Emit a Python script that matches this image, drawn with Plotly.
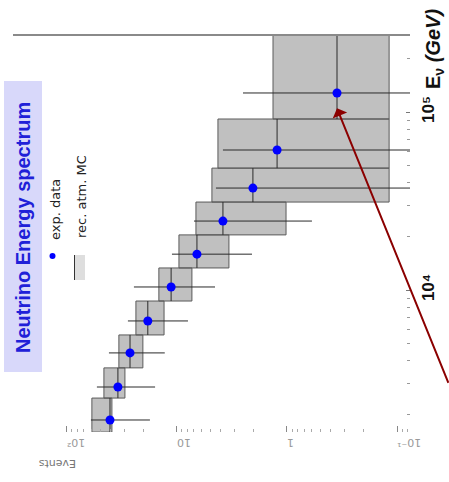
import numpy as np
import plotly.graph_objects as go

# Energy bins (GeV) and measured / simulated event counts per bin
energy_lo = [1590, 2470, 3650, 5590, 8670, 13300, 20400, 31200, 48400, 91400]
energy_hi = [2470, 3650, 5590, 8670, 13300, 20400, 31200, 48400, 91400, 271000]
energy_pt = [1860, 2850, 4430, 6700, 10400, 15900, 24400, 37400, 61200, 128000]

events_data = [40.6, 34.4, 26.7, 18.4, 11.3, 6.58, 3.82, 2.04, 1.23, 0.351]
events_err_hi = [60.5, 53.4, 41.5, 27.9, 24.6, 11.1, 7.0, 4.42, 3.82, 2.51]
events_err_lo = [17.6, 15.8, 12.9, 7.94, 4.51, 2.08, 0.593, 0.03, 0.03, 0.03]

mc_hi = [59.3, 46.1, 33.7, 23.6, 14.6, 9.59, 6.72, 4.81, 4.24, 1.34]
mc_lo = [39.0, 29.7, 20.4, 13.1, 7.31, 3.37, 1.02, 0.118, 0.118, 0.118]

events_ticks = [100, 10, 1, 0.1]
events_ticktext = ["10²", "10", "1", "10⁻¹"]
energy_ticks = [1e4, 1e5]
energy_ticktext = ["<b>10⁴</b>", "<b>10⁵</b>"]

W, H = 449, 482
ML, MR, MT, MB = 13, 39, 35, 50
PW, PH = W - ML - MR, H - MT - MB


def px(x):
    return (x - ML) / PW


def py(y):
    return (H - MB - y) / PH


fig = go.Figure()

# MC bands: one closed rectangle per energy bin
bx, by = [], []
for lo, hi, a, b in zip(energy_lo, energy_hi, mc_lo, mc_hi):
    bx += [a, b, b, a, a, None]
    by += [lo, lo, hi, hi, lo, None]
fig.add_trace(go.Scatter(x=bx, y=by, mode="lines", fill="toself",
                         fillcolor="#c0c0c0", line=dict(color="#5a5a5a", width=1),
                         hoverinfo="skip", showlegend=False))

# data error bars: events range (horizontal) and bin width (vertical)
ex, ey = [], []
for e, lo, hi, v, vlo, vhi in zip(energy_pt, energy_lo, energy_hi,
                                  events_data, events_err_lo, events_err_hi):
    ex += [vlo, vhi, None, v, v, None]
    ey += [e, e, None, lo, hi, None]
fig.add_trace(go.Scatter(x=ex, y=ey, mode="lines",
                         line=dict(color="#2a2a2a", width=1),
                         hoverinfo="skip", showlegend=False))

fig.add_trace(go.Scatter(x=events_data, y=energy_pt, mode="markers",
                         marker=dict(color="#0000ff", size=9),
                         showlegend=False))

minor_events = [m * 10.0 ** d for d in (-2, -1, 0, 1) for m in range(2, 10)]
minor_energy = [m * 10.0 ** d for d in (3, 4, 5) for m in range(2, 10)]

fig.update_xaxes(type="log", range=[2.49, -1.118], showgrid=False, zeroline=False,
                 showline=False, ticks="inside", ticklen=6, tickcolor="#888",
                 tickvals=events_ticks, ticktext=events_ticktext, tickangle=180,
                 ticklabelstandoff=6,
                 tickfont=dict(size=11, color="#999", family="DejaVu Sans"),
                 minor=dict(tickvals=minor_events, ticks="inside", ticklen=3,
                            tickcolor="#aaa"))
fig.update_yaxes(type="log", range=[3.202, 5.433], side="right", showgrid=False,
                 zeroline=False, showline=False, ticks="inside", ticklen=4,
                 tickcolor="#777", tickvals=energy_ticks, ticktext=energy_ticktext,
                 tickangle=-90, ticklabelstandoff=6,
                 tickfont=dict(size=17, color="#111", family="Liberation Sans"),
                 minor=dict(tickvals=minor_energy, ticks="inside", ticklen=3,
                            tickcolor="#999"))

shapes = [
    # frame line along the top
    dict(type="line", xref="paper", yref="paper", x0=0, x1=1, y0=1, y1=1,
         line=dict(color="#8a8a8a", width=2)),
    # title panel
    dict(type="rect", xref="paper", yref="paper", x0=px(4), x1=px(42),
         y0=py(372), y1=py(81), fillcolor="#d8d8fa", line=dict(width=0), layer="below"),
    # legend: data dot
    dict(type="circle", xref="paper", yref="paper", x0=px(49.5), x1=px(55.5),
         y0=py(259), y1=py(253), fillcolor="#0000ff", line=dict(width=0)),
    # legend: MC band
    dict(type="rect", xref="paper", yref="paper", x0=px(74), x1=px(85),
         y0=py(280), y1=py(255), fillcolor="#dedede", line=dict(width=0)),
    dict(type="line", xref="paper", yref="paper", x0=px(74.5), x1=px(74.5),
         y0=py(280), y1=py(255), line=dict(color="#333", width=1)),
]


def label(text, x, y, size, color, angle=-90, family="DejaVu Sans"):
    return dict(text=text, xref="paper", yref="paper", x=px(x), y=py(y),
                xanchor="center", yanchor="middle", showarrow=False,
                textangle=angle, font=dict(size=size, color=color, family=family))


annotations = [
    label("<b>Neutrino Energy spectrum</b>", 23, 228, 20, "#2020d8",
          family="Liberation Sans"),
    label("exp. data", 55, 210, 13, "#222"),
    label("rec. atm. MC", 81, 197, 13, "#222"),
    label("Events", 57, 464, 11, "#777", angle=180),
    label("<b>E<sub>ν</sub> <i>(GeV)</i></b>", 434, 49, 20, "#111",
          family="Liberation Sans"),
    # arrow pointing at the highest-energy bin
    dict(text="", xref="x", yref="y", x=np.log10(events_data[-1]),
         y=np.log10(energy_pt[-1] * 0.82), showarrow=True, ax=115, ay=276,
         arrowhead=1, arrowsize=1.3, arrowwidth=2, arrowcolor="#8b0000"),
]

fig.update_layout(width=W, height=H, margin=dict(l=ML, r=MR, t=MT, b=MB),
                  paper_bgcolor="white", plot_bgcolor="white",
                  shapes=shapes, annotations=annotations, showlegend=False)

fig.write_html("out.html")
